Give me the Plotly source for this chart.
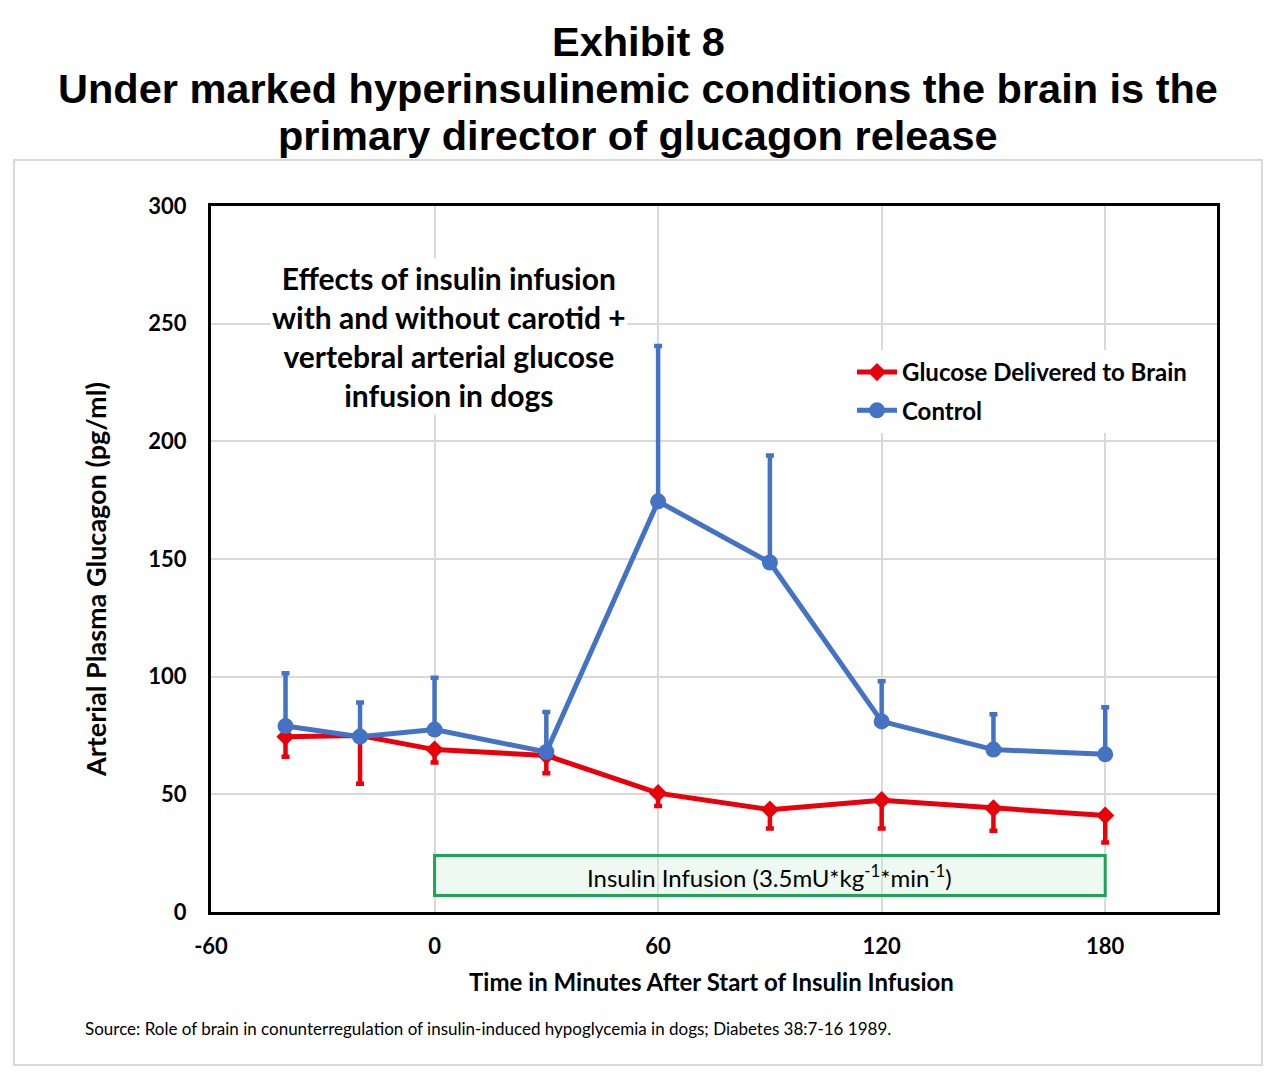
import plotly.graph_objects as go

# minutes after start of insulin infusion
times = [-40, -20, 0, 30, 60, 90, 120, 150, 180]

# arterial plasma glucagon (pg/ml)
glucose_brain = [74.5, 75, 69, 66.5, 50.5, 43.5, 47.5, 44, 41]
glucose_brain_err = [8.5, 20.5, 5.5, 7.5, 5.5, 8, 12, 9.5, 11.5]
control = [79, 74.5, 77.5, 68, 174.5, 148.5, 81, 69, 67]
control_err = [22.5, 14.5, 22, 17, 66, 45.5, 17, 15, 20]

x_ticks = [-60, 0, 60, 120, 180]
y_ticks = [0, 50, 100, 150, 200, 250, 300]

infusion_start, infusion_end = 0, 180
infusion_low, infusion_high = 7, 24

RED = "#E8000B"
BLUE = "#4472C4"
GREEN = "#1FA355"
BODY_FONT = "Lato"
TITLE_FONT = "Liberation Sans"

# page has a small body margin, so the figure sits a bit down and right
OFF = 8
# plot area in screen pixels
L, R, T, B = 211, 1217, 206, 912


def px(x):
    return (x - L) / (R - L)


def py(y):
    return (B - y) / (B - T)


fig = go.Figure()
fig.add_trace(go.Scatter(
    x=times, y=glucose_brain,
    name="Glucose Delivered to Brain", legendgroup="g",
    mode="lines+markers",
    line=dict(color=RED, width=5),
    marker=dict(symbol="diamond", size=14, color=RED),
    error_y=dict(type="data", symmetric=False,
                 array=[0] * len(times), arrayminus=glucose_brain_err,
                 color=RED, thickness=4.5, width=4),
))
fig.add_trace(go.Scatter(
    x=times, y=control,
    name="Control", legendgroup="c",
    mode="lines+markers",
    line=dict(color=BLUE, width=5),
    marker=dict(symbol="circle", size=16, color=BLUE),
    error_y=dict(type="data", symmetric=False,
                 array=control_err, arrayminus=[0] * len(times),
                 color=BLUE, thickness=4.5, width=4),
))

# insulin infusion band (above the grid, faint grid still shows through)
fig.add_shape(type="rect", xref="x", yref="y",
              x0=infusion_start, x1=infusion_end, y0=infusion_low, y1=infusion_high,
              line=dict(color=GREEN, width=3), fillcolor="rgba(205,238,215,0.35)",
              layer="between")
fig.add_annotation(x=(infusion_start + infusion_end) / 2,
                   y=(infusion_low + infusion_high) / 2, xref="x", yref="y",
                   xanchor="center", yanchor="middle",
                   text="Insulin Infusion (3.5mU*kg<sup>-1</sup>*min<sup>-1</sup>)",
                   showarrow=False, font=dict(family=BODY_FONT, size=24, color="black"))

# outer frame
fig.add_shape(type="rect", xref="paper", yref="paper",
              x0=px(14), x1=px(1262), y0=py(1065), y1=py(160),
              line=dict(color="#D9D9D9", width=2), layer="below")

# titles
title_lines = ["Exhibit 8",
               "Under marked hyperinsulinemic conditions the brain is the",
               "primary director of glucagon release"]
for i, line in enumerate(title_lines):
    fig.add_annotation(x=px(638), y=py(41 + i * 47), xref="paper", yref="paper",
                       xanchor="center", yanchor="middle",
                       text="<b>%s</b>" % line, showarrow=False,
                       font=dict(family=TITLE_FONT, size=41.5, color="black"))

fig.add_annotation(x=px(449), y=py(336), xref="paper", yref="paper",
                   xanchor="center", yanchor="middle",
                   text="<b>Effects of insulin infusion<br>with and without carotid +<br>"
                        "vertebral arterial glucose<br>infusion in dogs</b>",
                   showarrow=False, align="center", bgcolor="white",
                   font=dict(family=BODY_FONT, size=30, color="black"))

fig.add_annotation(x=px(83), y=py(1028), xref="paper", yref="paper",
                   xanchor="left", yanchor="middle",
                   text="Source: Role of brain in conunterregulation of insulin-induced "
                        "hypoglycemia in dogs; Diabetes 38:7-16 1989.",
                   showarrow=False, font=dict(family=BODY_FONT, size=17, color="black"))

fig.add_annotation(x=px(95), y=py(580), xref="paper", yref="paper", textangle=-90,
                   xanchor="center", yanchor="middle",
                   text="<b>Arterial Plasma Glucagon (pg/ml)</b>", showarrow=False,
                   font=dict(family=BODY_FONT, size=27, color="black"))
fig.add_annotation(x=px(711), y=py(981), xref="paper", yref="paper",
                   xanchor="center", yanchor="middle",
                   text="<b>Time in Minutes After Start of Insulin Infusion</b>", showarrow=False,
                   font=dict(family=BODY_FONT, size=24, color="black"))

fig.update_xaxes(range=[-60, 210], tickvals=x_ticks, ticktext=[str(v) for v in x_ticks],
                 showline=True, linecolor="black", linewidth=3, mirror=True,
                 showgrid=True, gridcolor="#D9D9D9", gridwidth=1.5,
                 zeroline=False, ticks="", ticklabelstandoff=13,
                 tickfont=dict(family=BODY_FONT, size=22, color="black", weight="bold"))
fig.update_yaxes(range=[0, 300], tickvals=y_ticks, ticktext=[str(v) for v in y_ticks],
                 showline=True, linecolor="black", linewidth=3, mirror=True,
                 showgrid=True, gridcolor="#D9D9D9", gridwidth=1.5,
                 zeroline=False, ticks="", ticklabelstandoff=17,
                 tickfont=dict(family=BODY_FONT, size=22, color="black", weight="bold"))

fig.update_layout(
    width=1283, height=1081,
    margin=dict(l=L - OFF, r=1283 - R + OFF, t=T - OFF, b=1081 - B + OFF),
    paper_bgcolor="white", plot_bgcolor="white",
    showlegend=True,
    legend=dict(x=px(852), y=py(350), xanchor="left", yanchor="top",
                bgcolor="white", traceorder="grouped", tracegroupgap=4,
                font=dict(family=BODY_FONT, size=24, color="black", weight="bold"),
                itemwidth=40),
)

fig.write_html("out.html")
